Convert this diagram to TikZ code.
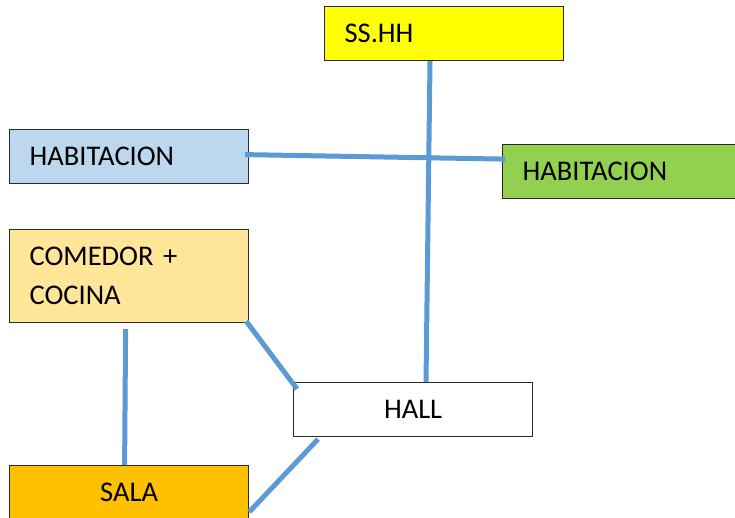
\documentclass[tikz,border=0pt]{standalone}
\usepackage{fontspec}
\setmainfont{Carlito}
\definecolor{conncol}{HTML}{5B9BD5}
\definecolor{yel}{HTML}{FFFF00}
\definecolor{lblue}{HTML}{BDD7EE}
\definecolor{lgreen}{HTML}{92D050}
\definecolor{lorange}{HTML}{FFE699}
\definecolor{orng}{HTML}{FFC000}
\definecolor{bord}{HTML}{2B2B2B}
\begin{document}
\begin{tikzpicture}[x=1pt,y=-1pt,
  room/.style={draw=bord,line width=1.2pt,rectangle,anchor=north west,
    minimum height=54pt,inner xsep=20pt,inner ysep=0pt,
    font=\fontsize{28.5}{39}\selectfont},
  lroom/.style={room,text width=#1,align=left},
  conn/.style={draw=conncol,line width=5pt}]
\useasboundingbox (0,0) rectangle (735,517);
\node[lroom=199pt,fill=yel] (ss) at (324,6) {SS.HH};
\node[lroom=199pt,fill=lblue] (habA) at (9,129) {HABITACION};
\node[lroom=194pt,fill=lgreen] (habB) at (502,144) {HABITACION};
\node[lroom=199pt,fill=lorange,minimum height=93pt] (com) at (9,229) {COMEDOR +\\COCINA};
\node[room,fill=white,minimum width=239pt,align=center] (hall) at (293,382) {HALL};
\node[room,fill=orng,minimum width=239pt,align=center] (sala) at (9,465) {SALA};
\draw[conn] ([xshift=106pt]ss.south west) -- ([xshift=133pt]hall.north west);
\draw[conn] ([xshift=-4pt,yshift=2pt]habA.east) -- ([xshift=3pt,yshift=12.5pt]habB.west);
\draw[conn] ([xshift=-3pt,yshift=2pt]com.south east) -- ([xshift=4pt,yshift=-7pt]hall.north west);
\draw[conn] ([xshift=-3.5pt,yshift=-6pt]com.south) -- ([xshift=-4.5pt]sala.north);
\draw[conn] ([xshift=25pt,yshift=-2pt]hall.south west) -- ([yshift=-47pt]sala.north east);
\end{tikzpicture}
\end{document}
